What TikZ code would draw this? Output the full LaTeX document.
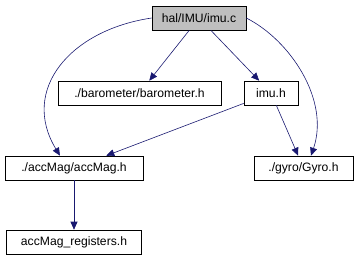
\documentclass[tikz,border=0pt]{standalone}
\usepackage{fontspec}
\setmainfont{Liberation Sans}
\usetikzlibrary{arrows.meta}
\definecolor{edgeblue}{HTML}{191970}
\definecolor{rootgray}{HTML}{BFBFBF}
\tikzset{
  file/.style={draw=black, semithick, inner sep=0pt, minimum height=24bp, font=\fontsize{12.2}{14}\selectfont},
  dep/.style={draw, -{Triangle[length=8bp,width=7bp]}, edgeblue, semithick},
}
\begin{document}
\begin{tikzpicture}[x=1bp, y=-1bp]
\useasboundingbox (0,0) rectangle (358,261);
\node[file, fill=rootgray, minimum width=94bp] (imuc) at (199, 18) {hal/IMU/imu.c};
\node[file, minimum width=163bp] (baro) at (139.5, 93) {./barometer/barometer.h};
\node[file, minimum width=54bp] (imuh) at (271, 93) {imu.h};
\node[file, minimum width=138bp] (accmag) at (74, 168) {./accMag/accMag.h};
\node[file, minimum width=99bp] (gyro) at (303.5, 168) {./gyro/Gyro.h};
\node[file, minimum width=135bp] (regs) at (74, 242) {accMag\_registers.h};
\path[dep] (imuc) edge (baro);
\path[dep] (imuc) edge (imuh);
\path[dep] (imuc.west) .. controls (70,30) and (20,90) .. (accmag.north -| 60,0);
\path[dep] (imuc.east) .. controls (290,40) and (330,100) .. (gyro.north -| 311,0);
\path[dep] (imuh) edge (accmag);
\path[dep] (imuh) edge (gyro);
\path[dep] (accmag) edge (regs);
\end{tikzpicture}
\end{document}
